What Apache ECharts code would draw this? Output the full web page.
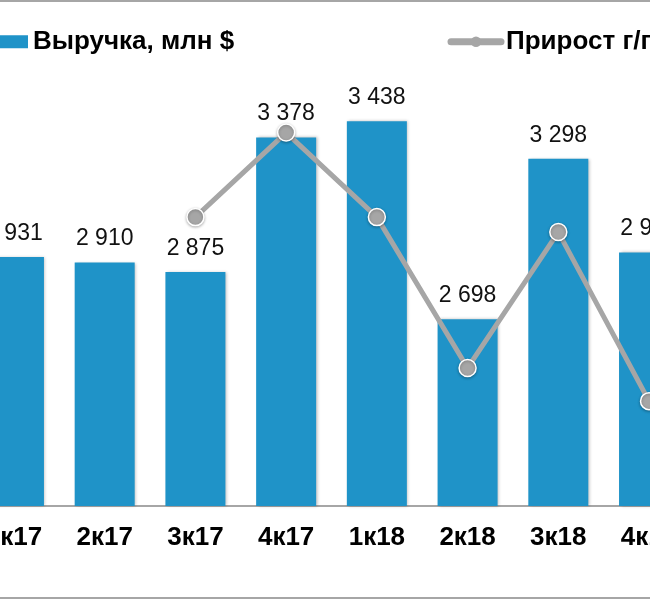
<!DOCTYPE html>
<html>
<head>
<meta charset="utf-8">
<script src="https://cdn.jsdelivr.net/npm/echarts@6/dist/echarts.min.js"></script>
<style>
  html, body { margin: 0; padding: 0; background: #fff; }
  #wrap { position: relative; width: 650px; height: 600px; overflow: hidden; background: #fff; }
  #chart { position: absolute; left: -60px; top: 0; width: 800px; height: 600px; }
  .bline { position: absolute; left: 0; width: 650px; height: 2px; background: #a6a6a6; }
</style>
</head>
<body>
<div id="wrap">
  <div id="chart"></div>
  <div class="bline" style="top:0px"></div>
  <div class="bline" style="top:597px"></div>
</div>
<script>
// Quarters
const categories = ['1к17', '2к17', '3к17', '4к17', '1к18', '2к18', '3к18', '4к18'];
// Revenue, mln $
const revenue = [2931, 2910, 2875, 3378, 3438, 2698, 3298, 2948];
// Growth y/y (no visible labels), %
const growth = [null, null, 27.0, 34.9, 27.0, 12.9, 25.6, 9.8];

const seriesNames = ['Выручка, млн $', 'Прирост г/г'];
const FONT = "'Liberation Sans', Arial, sans-serif";

const chart = echarts.init(document.getElementById('chart'), null, { renderer: 'canvas' });
chart.setOption({
  animation: false,
  backgroundColor: 'transparent',
  textStyle: { fontFamily: FONT },
  legend: [
    {
      data: [seriesNames[0]],
      left: 48, top: 28.7, padding: 0,
      icon: 'rect', itemWidth: 40, itemHeight: 13,
      textStyle: { fontFamily: FONT, fontSize: 26, fontWeight: 'bold', color: '#000' }
    },
    {
      data: [seriesNames[1]],
      left: 507.5, top: 28.7, padding: 0,
      itemWidth: 50, itemHeight: 13,
      lineStyle: { width: 7, cap: 'round', color: '#a6a6a6' },
      itemStyle: { color: '#a6a6a6', borderWidth: 0 },
      textStyle: { fontFamily: FONT, fontSize: 26, fontWeight: 'bold', color: '#000' }
    }
  ],
  grid: { left: 28.6, right: 45.6, top: 78, bottom: 94, containLabel: false },
  xAxis: {
    type: 'category',
    data: categories,
    boundaryGap: true,
    axisLine: { lineStyle: { color: '#a6a6a6', width: 2 } },
    axisTick: { show: false },
    axisLabel: { margin: 19, fontFamily: FONT, fontSize: 26, fontWeight: 'bold', color: '#000' }
  },
  yAxis: [
    { type: 'value', min: 2000, max: 3600, show: false, splitLine: { show: false } },
    { type: 'value', min: 0, max: 40, show: false, splitLine: { show: false } }
  ],
  series: [
    {
      name: seriesNames[0],
      type: 'bar',
      data: revenue,
      barWidth: 60,
      itemStyle: {
        color: '#1f93c8',
        shadowColor: 'rgba(0,0,0,0.25)', shadowBlur: 3, shadowOffsetX: 1.5, shadowOffsetY: 0
      },
      label: {
        show: true, position: 'top', distance: 12,
        fontFamily: FONT, fontSize: 23, color: '#111',
        formatter: p => String(p.value).replace(/\B(?=(\d{3})+(?!\d))/g, ' ')
      },
      z: 2
    },
    {
      name: seriesNames[1],
      type: 'line',
      yAxisIndex: 1,
      data: growth,
      connectNulls: false,
      symbol: 'circle',
      symbolSize: 17,
      lineStyle: { color: '#a6a6a6', width: 5 },
      itemStyle: { color: '#a6a6a6', borderColor: '#fff', borderWidth: 1.5,
                   shadowColor: 'rgba(0,0,0,0.3)', shadowBlur: 3, shadowOffsetY: 1 },
      label: { show: false },
      z: 3
    }
  ]
});
</script>
</body>
</html>
